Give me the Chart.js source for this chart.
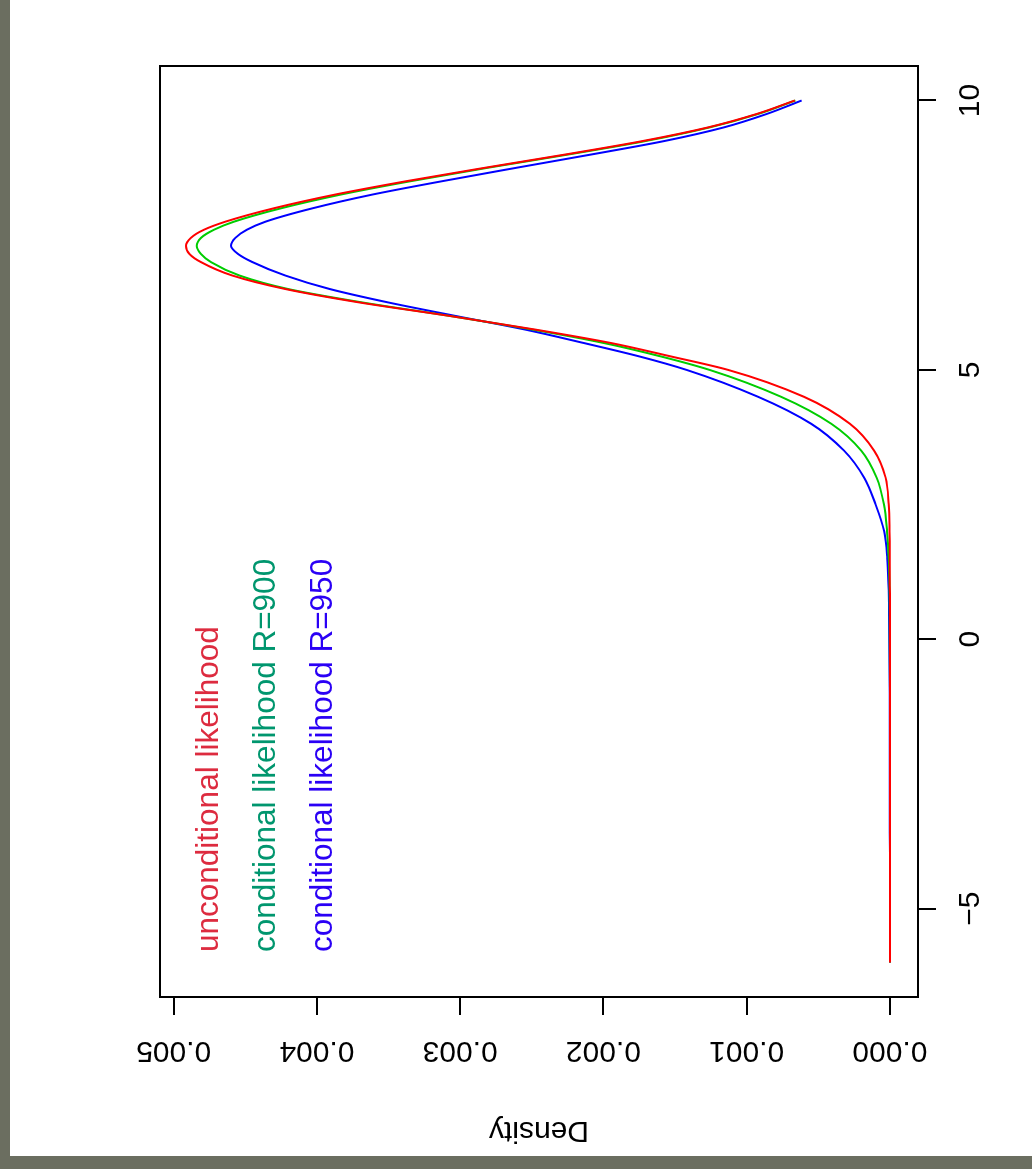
<!DOCTYPE html>
<html>
<head>
<meta charset="utf-8">
<script src="https://cdn.jsdelivr.net/npm/chart.js@4.4.1/dist/chart.umd.min.js"></script>
<style>
    html, body { margin: 0; padding: 0; width: 1032px; height: 1169px; overflow: hidden; background: #6b6e60; }
    /* the R plot is drawn upright, then turned a quarter turn anticlockwise */
    #panel { position: absolute; left: 0; top: 0; width: 1156px; height: 1022px; background: #fff;
             transform-origin: 0 0; transform: translate(10px, 1156px) rotate(-90deg); }
</style>
</head>
<body>
<div id="panel"><canvas id="densityChart" width="1156" height="1022"></canvas></div>
<script>
// values
var xValues = [-6, -5, -4, -3, -2, -1, 0, 0.5, 1, 1.5, 2, 2.5, 3, 3.5, 4, 4.5, 5, 5.25, 5.5, 5.75,
               6, 6.25, 6.5, 6.75, 7, 7.15, 7.3, 7.45, 7.6, 7.75, 8, 8.25, 8.5, 8.75, 9, 9.25, 9.5, 9.75, 10];
var unconditional = [0, 0, 0, 0, 0, 0, 0, 0, 0.0000005, 0.000001, 0.000003, 0.000009, 0.00003, 0.00011, 0.00028, 0.0006, 0.00113, 0.00153, 0.00195, 0.00248,
                     0.00307, 0.0037, 0.00422, 0.00459, 0.00481, 0.00489, 0.004914, 0.00488, 0.00479, 0.00464, 0.0043, 0.00388, 0.00338, 0.00283, 0.00226, 0.00172, 0.00127, 0.00093, 0.000664];
var conditional900 = [0, 0, 0, 0, 0, 0, 0.0000005, 0.000001, 0.000003, 0.000008, 0.00002, 0.000042, 0.000093, 0.0002, 0.00041, 0.00076, 0.00126, 0.0016, 0.002, 0.0025,
                      0.00307, 0.00368, 0.0042, 0.00454, 0.00474, 0.00481, 0.00484, 0.00481, 0.00472, 0.00458, 0.00425, 0.00384, 0.00335, 0.00281, 0.00224, 0.0017, 0.00126, 0.00092, 0.00066];
var conditional950 = [0, 0, 0.0000003, 0.0000005, 0.000001, 0.000002, 0.000004, 0.000006, 0.00001, 0.000018, 0.00004, 0.0001, 0.00018, 0.00032, 0.00055, 0.00092, 0.00142, 0.00175, 0.00214, 0.00255,
                      0.00303, 0.0035, 0.00391, 0.00422, 0.00445, 0.00455, 0.0046, 0.00457, 0.00449, 0.00436, 0.00403, 0.00362, 0.00313, 0.00261, 0.00208, 0.00157, 0.00116, 0.00086, 0.000617];
var xTicks = [-5, 0, 5, 10];
var densityTicks = [0, 0.001, 0.002, 0.003, 0.004, 0.005];
var seriesNames = ['unconditional likelihood', 'conditional likelihood R=900', 'conditional likelihood R=950'];
var lineColors = ['#ff0000', '#00cd00', '#0000ff'];
var textColors = ['#dd2b3f', '#00966e', '#2a00f5'];

function toPoints(ys) {
    return xValues.map(function (x, i) { return { x: x, y: ys[i] }; });
}

Chart.defaults.font.family = '"Liberation Sans", Arial, sans-serif';
Chart.defaults.font.size = 30;
Chart.defaults.color = '#000';

// R draws a full box round the plot region
var boxPlugin = {
    id: 'box',
    beforeDraw: function (chart) {
        var c = chart.ctx;
        c.save();
        c.fillStyle = '#fff';
        c.fillRect(0, 0, chart.width, chart.height);
        c.restore();
    },
    afterDraw: function (chart) {
        var a = chart.chartArea, c = chart.ctx;
        c.save();
        c.strokeStyle = '#000';
        c.lineWidth = 2;
        c.strokeRect(a.left, a.top, a.right - a.left, a.bottom - a.top);
        c.restore();
    }
};

// text-only legend in the top left corner
var textLegend = {
    id: 'textLegend',
    afterDraw: function (chart) {
        var a = chart.chartArea, c = chart.ctx;
        c.save();
        c.font = '31.5px "Liberation Sans", Arial, sans-serif';
        c.textAlign = 'left';
        c.textBaseline = 'alphabetic';
        seriesNames.forEach(function (name, i) {
            c.fillStyle = textColors[i];
            c.fillText(name, a.left + 45, a.top + 58 + i * 57);
        });
        c.restore();
    }
};

var ctx = document.getElementById('densityChart').getContext('2d');
var densityChart = new Chart(ctx, {
    type: 'line',
    data: {
        datasets: seriesNames.map(function (name, i) {
            return {
                label: name,
                data: toPoints([unconditional, conditional900, conditional950][i]),
                borderColor: lineColors[i],
                borderWidth: 2,
                pointRadius: 0,
                fill: false,
                cubicInterpolationMode: 'monotone'
            };
        })
    },
    options: {
        responsive: false,
        animation: false,
        layout: { padding: { top: 150, right: 66, left: 0, bottom: 0 } },
        plugins: { legend: { display: false }, tooltip: { enabled: false } },
        scales: {
            x: {
                type: 'linear',
                min: -6.64,
                max: 10.64,
                afterBuildTicks: function (scale) {
                    scale.ticks = xTicks.map(function (v) { return { value: v }; });
                },
                afterFit: function (scale) { scale.height = 114; },
                ticks: {
                    autoSkip: false,
                    maxRotation: 0,
                    padding: 17,
                    callback: function (v) { return v < 0 ? '\u2212' + Math.abs(v) : String(v); }
                },
                grid: { drawOnChartArea: false, drawTicks: true, tickLength: 18, color: '#000', lineWidth: 2 },
                border: { display: false }
            },
            y: {
                type: 'linear',
                min: -0.000196,
                max: 0.005096,
                afterBuildTicks: function (scale) {
                    scale.ticks = densityTicks.map(function (v) { return { value: v }; });
                },
                afterFit: function (scale) { scale.width = 159; },
                title: { display: true, text: 'Density', padding: { top: 8, bottom: 0 } },
                ticks: {
                    autoSkip: false,
                    minRotation: 90,
                    maxRotation: 90,
                    crossAlign: 'center',
                    padding: -2,
                    callback: function (v) { return v.toFixed(3); }
                },
                grid: { drawOnChartArea: false, drawTicks: true, tickLength: 18, color: '#000', lineWidth: 2 },
                border: { display: false }
            }
        }
    },
    plugins: [boxPlugin, textLegend]
});
</script>
</body>
</html>
